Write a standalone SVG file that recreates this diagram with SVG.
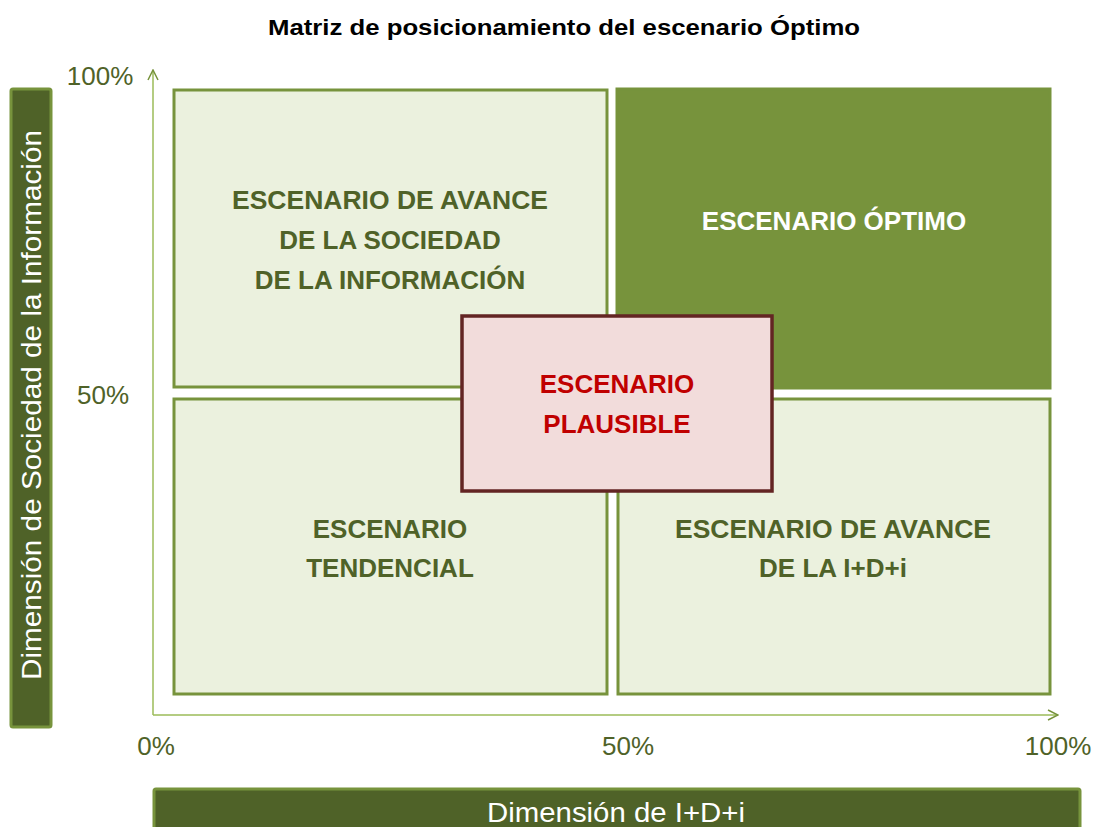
<svg xmlns="http://www.w3.org/2000/svg" width="1095" height="827" viewBox="0 0 1095 827">
<style>
.q{fill:#EBF1DE;stroke:#77933C;stroke-width:3}
.qd{fill:#77933C;stroke:#77933C;stroke-width:3}
.qt{font-family:"Liberation Sans",Arial,sans-serif;font-weight:bold;font-size:26px;fill:#4F6228;text-anchor:middle}
.pct{font-family:"Liberation Sans",Arial,sans-serif;font-size:26px;fill:#4F6228;text-anchor:middle}
.ax{stroke:#9BBB59;stroke-width:1.5;fill:none}
.lab{fill:#4F6228;stroke:#77933C;stroke-width:3}
.lt{font-family:"Liberation Sans",Arial,sans-serif;font-size:27px;fill:#FFFFFF;text-anchor:middle}
</style>
<defs>
<marker id="open" viewBox="0 0 12 12" refX="11" refY="6" markerWidth="12" markerHeight="12" markerUnits="userSpaceOnUse" orient="auto">
<path d="M1,1 L11,6 L1,11" fill="none" stroke="#77933C" stroke-width="1.5"/>
</marker>
</defs>
<rect width="1095" height="827" fill="#FFFFFF"/>
<text x="564" y="35" font-family="Liberation Sans,Arial,sans-serif" font-weight="bold" font-size="22" text-anchor="middle" fill="#000000" textLength="592" lengthAdjust="spacingAndGlyphs">Matriz de posicionamiento del escenario Óptimo</text>
<g id="connectors">
<line class="ax" x1="153" y1="715" x2="153" y2="70" marker-end="url(#open)"/>
<line class="ax" x1="153" y1="715" x2="1058" y2="715" marker-end="url(#open)"/>
</g>
<g id="ticks">
<text class="pct" x="100" y="85">100%</text>
<text class="pct" x="103" y="404">50%</text>
<text class="pct" x="156" y="755">0%</text>
<text class="pct" x="628" y="755">50%</text>
<text class="pct" x="1058" y="755">100%</text>
</g>
<g id="ylabel">
<rect class="lab" x="11" y="89" width="40" height="638" rx="2"/>
<text class="lt" transform="translate(41,405) rotate(-90)" textLength="550" lengthAdjust="spacingAndGlyphs">Dimensión de Sociedad de la Información</text>
</g>
<g id="xlabel">
<rect class="lab" x="154" y="789" width="926" height="45" rx="2"/>
<text class="lt" x="616" y="822" textLength="258" lengthAdjust="spacingAndGlyphs">Dimensión de I+D+i</text>
</g>
<g id="q-avance-si">
<rect class="q" x="174" y="90" width="433" height="297"/>
<text class="qt" x="390" y="209" textLength="316" lengthAdjust="spacingAndGlyphs">ESCENARIO DE AVANCE</text>
<text class="qt" x="390" y="249">DE LA SOCIEDAD</text>
<text class="qt" x="390" y="289">DE LA INFORMACIÓN</text>
</g>
<g id="q-optimo">
<rect class="qd" x="617" y="89" width="433" height="299"/>
<text class="qt" x="834" y="230" style="fill:#FFFFFF">ESCENARIO ÓPTIMO</text>
</g>
<g id="q-tendencial">
<rect class="q" x="174" y="399" width="433" height="295"/>
<text class="qt" x="390" y="538">ESCENARIO</text>
<text class="qt" x="390" y="577">TENDENCIAL</text>
</g>
<g id="q-avance-idi">
<rect class="q" x="618" y="399" width="432" height="295"/>
<text class="qt" x="833" y="538" textLength="316" lengthAdjust="spacingAndGlyphs">ESCENARIO DE AVANCE</text>
<text class="qt" x="833" y="577">DE LA I+D+i</text>
</g>
<g id="plausible">
<rect x="462" y="316" width="310" height="175" fill="#F2DCDB" stroke="#632523" stroke-width="3.5"/>
<text class="qt" x="617" y="393" style="fill:#C00000">ESCENARIO</text>
<text class="qt" x="617" y="433" style="fill:#C00000">PLAUSIBLE</text>
</g>
</svg>
